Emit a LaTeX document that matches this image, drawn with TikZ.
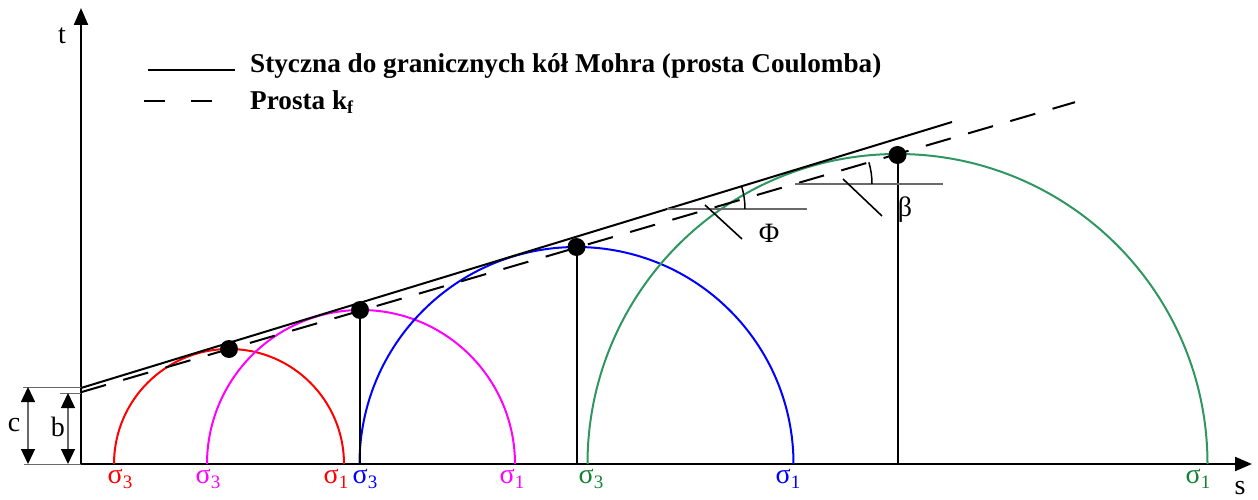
\documentclass[tikz,border=0pt]{standalone}
\usepackage{fontspec}
\setmainfont{Liberation Serif}
\usetikzlibrary{arrows.meta}
\definecolor{mgreen}{RGB}{46,150,95}
\definecolor{lgreen}{RGB}{20,130,50}
\definecolor{dimgray}{RGB}{105,105,105}
\definecolor{pmag}{RGB}{255,0,255}
\definecolor{pred}{RGB}{255,0,0}
\definecolor{pblue}{RGB}{0,0,255}
\newcommand\sgm[1]{σ\raisebox{-5pt}{\fontsize{19}{20}\selectfont #1}}
\begin{document}
\begin{tikzpicture}[x=1pt,y=1pt,
  axis/.style={line width=2.2pt, -{Triangle[length=17pt,width=14pt]}},
  mohr/.style={line width=2pt},
  coul/.style={line width=2pt},
  kf/.style={line width=2pt, dash pattern=on 26pt off 18pt},
  kflegend/.style={line width=2pt, dash pattern=on 21pt off 26pt},
  dot/.style={circle, fill=black, inner sep=0pt, minimum size=18pt},
  drop/.style={line width=2pt},
  dimline/.style={line width=1pt, dimgray},
  dimtip/.style={Triangle[length=15pt,width=14pt,color=black,fill=black]},
  dimarrow/.style={line width=1.4pt, dimgray, {Triangle[length=15pt,width=14pt,color=black,fill=black]}-{Triangle[length=15pt,width=14pt,color=black,fill=black]}},
  refline/.style={line width=1.3pt, dimgray},
  anglearc/.style={line width=1.5pt},
  leader/.style={line width=1.6pt},
  lbl/.style={font=\fontsize{28}{30}\selectfont, inner sep=0pt},
  sig/.style={font=\fontsize{28}{30}\selectfont, inner sep=0pt, anchor=base},
  legend/.style={font=\bfseries\fontsize{27.2}{30}\selectfont, inner sep=0pt, anchor=base west}
]
\useasboundingbox (-81,-35) rectangle (1177,464);

% axes
\coordinate (O) at (0,0);
\coordinate (ytop) at (0,456);
\coordinate (xend) at (1171,0);
\draw[axis] (O) -- (ytop);
\draw[axis] (O) -- (xend);
\node[lbl] (tlab) at (-19,428) {t};
\node[lbl] (slab) at (1159,-24) {s};

% legend
\coordinate (ls1) at (67,394);
\coordinate (ls2) at (154,394);
\draw[coul] (ls1) -- (ls2);
\coordinate (ld1) at (63,363);
\coordinate (ld2) at (132,363);
\draw[kflegend] (ld1) -- (ld2);
\node[legend] (leg1) at (169,391) {Styczna do granicznych kół Mohra (prosta Coulomba)};
\node[legend] (leg2) at (169,354) {Prosta k\raisebox{-4pt}{\fontsize{18}{20}\selectfont f}};

% Mohr circles
\draw[mohr, pred] (33,0) arc[start angle=180, end angle=0, radius=115pt];
\draw[mohr, pmag] (126,0) arc[start angle=180, end angle=0, radius=154pt];
\draw[mohr, pblue] (278.5,0) arc[start angle=180, end angle=0, radius=217pt];
\draw[mohr, mgreen] (506.5,0) arc[start angle=180, end angle=0, radius=310pt];

% Coulomb line and k_f line
\coordinate (c0) at (0,76);
\coordinate (c1) at (871,342);
\draw[coul] (c0) -- (c1);
\coordinate (k0) at (0,71.8);
\coordinate (k1) at (994,361.8);
\draw[kf] (k0) -- (k1);

% dots and drops
\node[dot] (d1) at (148,115) {};
\node[dot] (d2) at (279,154) {};
\node[dot] (d3) at (495.5,217) {};
\node[dot] (d4) at (816.5,309) {};
\coordinate (f2) at (279,0);
\coordinate (f3) at (495.5,0);
\coordinate (f4) at (816.5,0);
\draw[drop] (d2.center) -- (f2);
\draw[drop] (d3.center) -- (f3);
\draw[drop] (d4.center) -- (f4);

% dimensions c and b
\coordinate (cL) at (-58,77);
\coordinate (cR) at (0,77);
\coordinate (bL) at (-21,71);
\coordinate (bR) at (0,71);
\coordinate (zL) at (-57,0);
\draw[dimline] (cL) -- (cR);
\draw[dimline] (bL) -- (bR);
\draw[dimline] (zL) -- (O);
\coordinate (ca) at (-53,0);
\coordinate (cb) at (-53,77);
\coordinate (ba) at (-13,0);
\coordinate (bb) at (-13,71);
\draw[dimarrow] (ca) -- (cb);
\draw[dimarrow] (ba) -- (bb);
\node[lbl] (clab) at (-67,39) {c};
\node[lbl] (blab) at (-23,37) {b};

% angle Phi
\coordinate (phiO) at (586,255);
\coordinate (phiE) at (726,255);
\draw[refline] (phiO) -- (phiE);
\draw[anglearc] (664,255) arc[start angle=0, end angle=17, radius=78pt];
\coordinate (phiA) at (624,259);
\coordinate (phiB) at (661,225);
\draw[leader] (phiA) -- (phiB);
\node[lbl] (philab) at (688,231) {Φ};

% angle beta
\coordinate (betO) at (714,280);
\coordinate (betE) at (862,280);
\draw[refline] (betO) -- (betE);
\draw[anglearc] (791,280) arc[start angle=0, end angle=16.3, radius=77pt];
\coordinate (betA) at (762,285);
\coordinate (betB) at (801,248);
\draw[leader] (betA) -- (betB);
\node[lbl] (betlab) at (824,254) {β};

% sigma labels
\node[sig, pred] (s1) at (39,-19) {\sgm{3}};
\node[sig, pmag] (s2) at (127,-19) {\sgm{3}};
\node[sig, pred] (s3) at (255,-19) {\sgm{1}};
\node[sig, pblue] (s4) at (284,-19) {\sgm{3}};
\node[sig, pmag] (s5) at (431,-19) {\sgm{1}};
\node[sig, lgreen] (s6) at (510,-19) {\sgm{3}};
\node[sig, pblue] (s7) at (707,-19) {\sgm{1}};
\node[sig, lgreen] (s8) at (1117,-19) {\sgm{1}};
\end{tikzpicture}
\end{document}
